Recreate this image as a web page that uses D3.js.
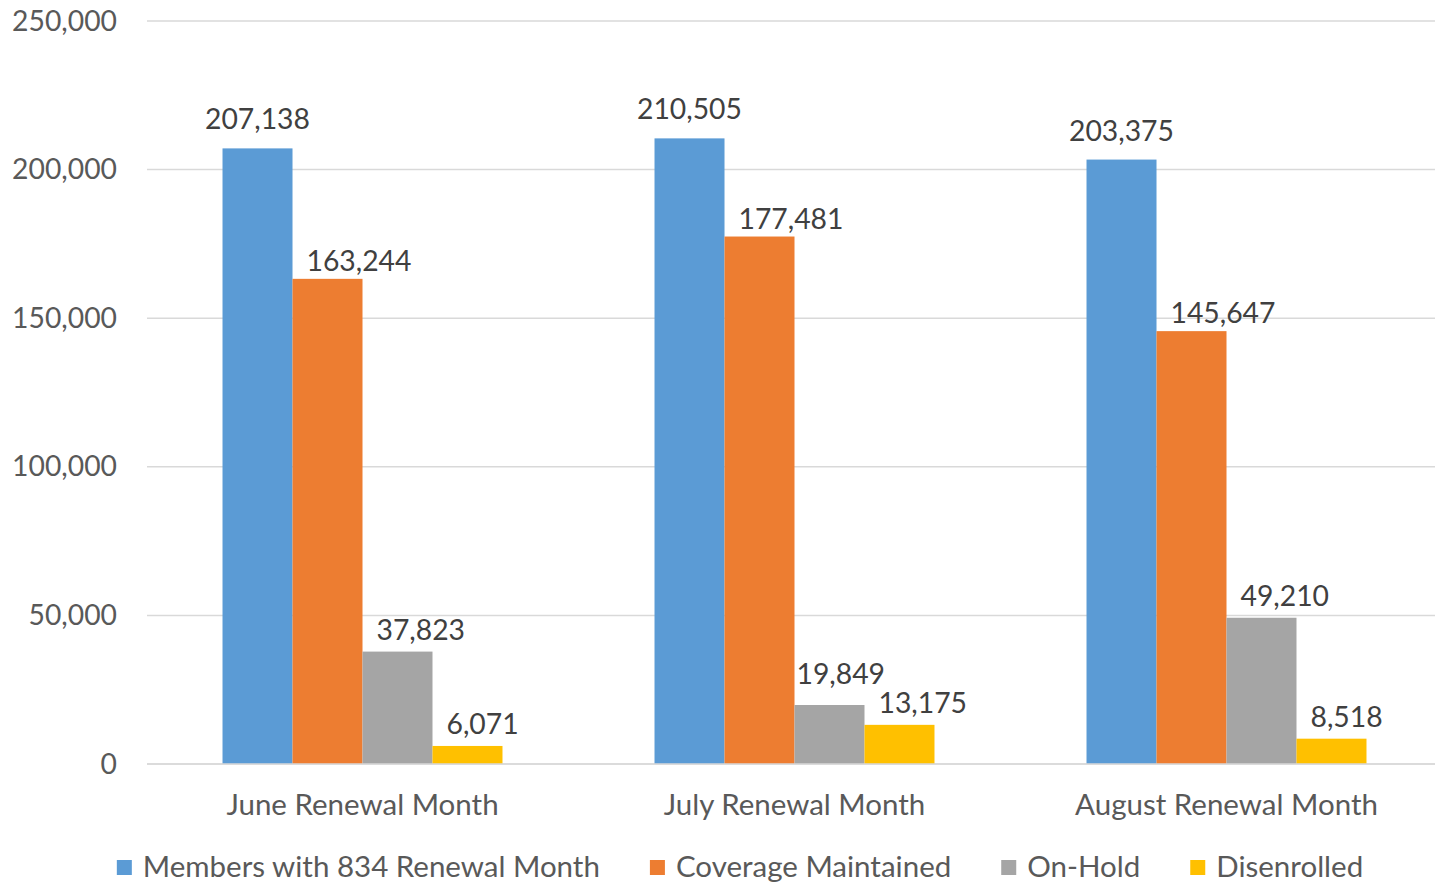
<!DOCTYPE html>
<html><head><meta charset="utf-8">
<script src="https://cdn.jsdelivr.net/npm/d3@7"></script>
<style>body{margin:0;background:#fff}svg{display:block}text{font-family:Lato,"Open Sans",sans-serif}</style>
</head><body><svg id="c" width="1435" height="884"></svg>
<script>
const categories = ["June Renewal Month", "July Renewal Month", "August Renewal Month"];
const seriesNames = ["Members with 834 Renewal Month", "Coverage Maintained", "On-Hold", "Disenrolled"];
const members = [207138, 210505, 203375];
const maintained = [163244, 177481, 145647];
const onHold = [37823, 19849, 49210];
const disenrolled = [6071, 13175, 8518];
const yTicks = [0, 50000, 100000, 150000, 200000, 250000];
const colors = ["#5B9BD5", "#ED7D31", "#A5A5A5", "#FFC000"];
const labelGap = [19, 8, 12, 12];

const seriesValues = [members, maintained, onHold, disenrolled];
const svg = d3.select("#c");
const L = 146.5, R = 1442.5, T = 21, B = 764, GR = 1435;
const fsNum = 28.3, fsTxt = 29.5;

const x0 = d3.scaleBand().domain(categories).range([L, R]).padding(0);
const x1 = d3.scaleBand().domain(seriesNames).range([0, x0.bandwidth()]).paddingInner(0).paddingOuter(1.086);
const y = d3.scaleLinear().domain([0, 250000]).range([B, T]);
const fmt = d3.format(",");

// gridlines
svg.append("g").selectAll("line").data(yTicks).join("line")
  .attr("x1", 147).attr("x2", GR).attr("y1", d => y(d)).attr("y2", d => y(d))
  .attr("stroke", "#D9D9D9").attr("stroke-width", 1.5);

// y axis
const yAxis = svg.append("g").attr("transform", `translate(147,0)`)
  .call(d3.axisLeft(y).tickValues(yTicks).tickFormat(fmt).tickSize(0).tickPadding(30));
yAxis.select(".domain").remove();
yAxis.selectAll("text").attr("font-size", fsNum).attr("fill", "#595959").attr("font-family", "Lato");

// bars
const groups = svg.append("g").selectAll("g").data(categories).join("g")
  .attr("transform", d => `translate(${x0(d)},0)`);
groups.each(function(c, ci) {
  const g = d3.select(this);
  const data = seriesNames.map((s, si) => ({s, si, v: seriesValues[si][ci]}));
  g.selectAll("rect").data(data).join("rect")
    .attr("x", d => x1(d.s)).attr("width", x1.bandwidth())
    .attr("y", d => y(d.v)).attr("height", d => y(0) - y(d.v))
    .attr("fill", d => colors[d.si]);
  const labels = g.selectAll("text").data(data).join("text")
    .attr("x", d => d.si === 0 ? x1(d.s) + x1.bandwidth() / 2 : x1(d.s) + 14)
    .attr("y", d => y(d.v) - labelGap[d.si])
    .attr("text-anchor", d => d.si === 0 ? "middle" : "start")
    .attr("font-size", fsNum).attr("fill", "#404040")
    .text(d => fmt(d.v));
  // simple collision avoidance between neighbouring labels
  const nodes = labels.nodes();
  for (let i = nodes.length - 2; i >= 1; i--) {
    const a = nodes[i].getBBox(), b = nodes[i + 1].getBBox();
    const overlap = a.x + a.width > b.x && b.y < a.y + a.height && b.y + b.height > a.y;
    if (overlap) {
      const d = data[i];
      d3.select(nodes[i]).attr("x", x1(d.s) + 2).attr("y", y(d.v) - labelGap[d.si] - 9);
    }
  }
});

// x axis
svg.append("line").attr("x1", 147).attr("x2", GR).attr("y1", B).attr("y2", B)
  .attr("stroke", "#D9D9D9").attr("stroke-width", 1.5);
const xAxis = svg.append("g").attr("transform", `translate(0,${B})`)
  .call(d3.axisBottom(x0).tickSize(0).tickPadding(30));
xAxis.select(".domain").remove();
xAxis.selectAll("text").attr("font-size", fsTxt).attr("fill", "#595959").attr("font-family", "Lato");

// legend
const leg = svg.append("g");
const items = leg.selectAll("g").data(seriesNames).join("g");
items.append("rect").attr("width", 15).attr("height", 15).attr("y", -17).attr("fill", (d, i) => colors[i]);
items.append("text").attr("x", 26).attr("font-size", fsTxt).attr("fill", "#595959").text(d => d);
let cx = 0;
const gap = 50;
const offs = [];
items.each(function() {
  offs.push(cx);
  cx += 26 + this.querySelector("text").getComputedTextLength() + gap;
});
const totalW = cx - gap;
const start = 740 - totalW / 2;
items.attr("transform", (d, i) => `translate(${start + offs[i]},877)`);
</script></body></html>
